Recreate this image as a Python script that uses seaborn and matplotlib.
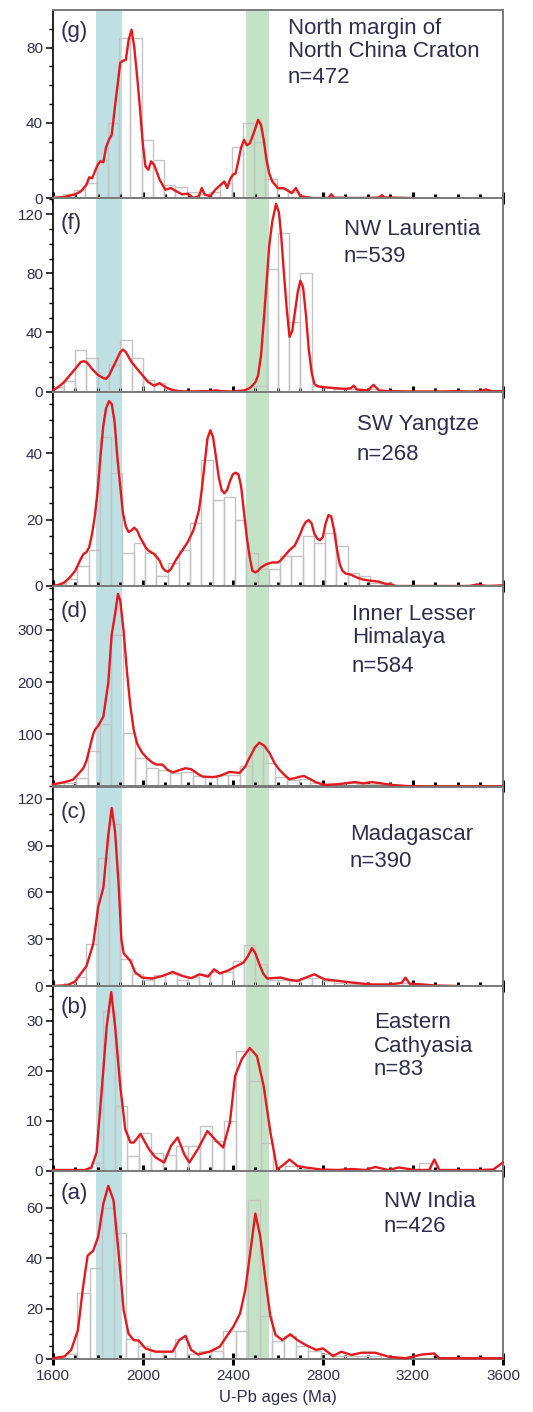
import numpy as np
import pandas as pd
import matplotlib
matplotlib.use("Agg")
import matplotlib.pyplot as plt
import seaborn as sns

# ---------------- data ----------------
PANELS = ["g", "f", "e", "d", "c", "b", "a"]

LABELS = {
    "g": "(g)", "f": "(f)", "e": None, "d": "(d)", "c": "(c)", "b": "(b)", "a": "(a)",
}
REGION_TEXT = {
    "g": ["North margin of", "North China Craton", "n=472"],
    "f": ["NW Laurentia", "n=539"],
    "e": ["SW Yangtze", "n=268"],
    "d": ["Inner Lesser", "Himalaya", "n=584"],
    "c": ["Madagascar", "n=390"],
    "b": ["Eastern", "Cathyasia", "n=83"],
    "a": ["NW India", "n=426"],
}

# probability-density curves (age in Ma, scaled value)
g_age = [1600, 1650, 1700, 1725, 1750, 1762, 1775, 1800, 1812, 1825, 1837, 1850, 1862, 1875, 1887, 1900,
         1912, 1925, 1937, 1950, 1962, 1975, 1987, 2000, 2012, 2025, 2037, 2050, 2062, 2075, 2100, 2125,
         2150, 2175, 2200, 2225, 2250, 2262, 2275, 2300, 2325, 2350, 2362, 2375, 2387, 2400, 2412, 2425,
         2437, 2450, 2462, 2475, 2487, 2500, 2512, 2525, 2537, 2550, 2562, 2575, 2600, 2625, 2650, 2662,
         2680, 2700, 2750, 2825, 2837, 2850, 3000, 3050, 3062, 3075, 3190]
g_val = [0, 0.5, 2, 3.5, 7, 11, 10.5, 17.7, 19.5, 19, 27, 31, 33.6, 47, 59, 72,
         73, 73.5, 84, 89.5, 80.5, 64.6, 48.7, 29, 16.8, 15, 19.5, 17.7, 14, 9.7, 4.4, 5.3,
         3.5, 2, 2.3, 0, 1, 5.3, 1.8, 1, 4.8, 7.4, 8.8, 5.3, 9.7, 12.4, 13, 20,
         27, 31, 28, 29, 32.7, 37, 41.6, 39, 31, 20, 13, 8.8, 5.3, 5.3, 3.5, 2.6,
         5.3, 1, 0, 0, 2, 0, 0, 0.3, 1.5, 0.3, 0]

f_age = [1600, 1625, 1650, 1675, 1700, 1725, 1737, 1750, 1775, 1800, 1825, 1837, 1850, 1875, 1900, 1912,
         1925, 1950, 1975, 2000, 2025, 2050, 2062, 2075, 2100, 2125, 2150, 2200, 2300, 2325, 2350, 2400,
         2425, 2450, 2475, 2487, 2500, 2512, 2525, 2537, 2550, 2562, 2575, 2592, 2605, 2615, 2627, 2640,
         2652, 2664, 2677, 2689, 2700, 2712, 2725, 2737, 2750, 2762, 2775, 2800, 2850, 2900, 2925, 2937,
         2950, 3000, 3025, 3050, 3100, 3200, 3300, 3400, 3450, 3500, 3525, 3550, 3600]
f_val = [0.7, 3, 6.3, 10.8, 15.3, 20, 20.5, 20, 15.3, 11.3, 9, 8.6, 10.8, 18.7, 26.6, 28.4,
         26.6, 20, 15.3, 10.8, 6.3, 4, 4.7, 5.6, 3, 1.4, 0.3, 0, 0.3, 0.8, 0.2, 0,
         0.4, 0.7, 2.3, 4, 6.3, 10.8, 24, 47, 74, 99, 115, 127, 121, 105, 80, 55,
         37, 41, 55, 68, 75, 70.6, 51.5, 29, 13, 5.2, 3.6, 3, 2.3, 1.8, 2.3, 4,
         1.4, 0.7, 4.5, 0.7, 0.2, 0, 0, 0.2, 0, 0.2, 1.4, 0.2, 0.2]

e_age = [1600, 1625, 1650, 1675, 1700, 1725, 1737, 1750, 1762, 1775, 1787, 1800, 1812, 1825, 1837, 1850,
         1862, 1875, 1887, 1900, 1912, 1925, 1937, 1950, 1962, 1975, 1987, 2000, 2012, 2025, 2037, 2050,
         2062, 2075, 2087, 2100, 2112, 2125, 2137, 2150, 2175, 2200, 2225, 2250, 2262, 2275, 2287, 2300,
         2312, 2325, 2337, 2350, 2362, 2375, 2387, 2400, 2412, 2425, 2437, 2450, 2462, 2475, 2487, 2500,
         2512, 2525, 2550, 2575, 2600, 2612, 2625, 2650, 2675, 2700, 2712, 2725, 2737, 2750, 2762, 2775,
         2787, 2800, 2812, 2825, 2837, 2850, 2862, 2875, 2887, 2900, 2925, 2950, 2975, 3000, 3050, 3075,
         3100, 3125, 3200, 3300, 3400, 3450, 3487, 3525, 3600]
e_val = [0, 0.3, 1, 2.5, 4.6, 8.2, 9.7, 10.2, 11.7, 15.8, 21, 29, 39, 48.5, 53.6, 55.8,
         55, 49.5, 39, 30, 22, 17.9, 16.3, 16.8, 17.6, 16.8, 14.8, 13.3, 11.7, 10.7, 10.2, 9.7,
         8.7, 7.7, 5.6, 4.6, 4.3, 5.1, 6.6, 8.2, 10.7, 13.3, 16.8, 23, 29, 37, 44.4, 47,
         45, 39, 33, 29, 28, 29, 31.6, 33.7, 34.2, 33.7, 30, 22, 14.8, 8.7, 4.6, 4.1,
         4.6, 5.6, 6.6, 7.1, 7.1, 7.7, 8.7, 10.7, 12.2, 15.8, 17.9, 19.4, 19.9, 18.9, 15.8, 14.3,
         13.8, 14.8, 18.9, 21.4, 21, 16.8, 11.2, 6.6, 4.6, 3.8, 3.4, 2.6, 2, 1.7, 1.3, 0.7,
         0.5, 0, 0, 0, 0, 0, 0.5, 0, 0.2]

d_age = [1600, 1650, 1690, 1712, 1736, 1750, 1780, 1790, 1802, 1825, 1847, 1862, 1877, 1890, 1900, 1915,
         1930, 1945, 1960, 1975, 1997, 2020, 2042, 2061, 2087, 2110, 2134, 2160, 2190, 2216, 2245, 2267,
         2312, 2340, 2386, 2430, 2455, 2474, 2500, 2518, 2540, 2563, 2585, 2607, 2630, 2651, 2675, 2700,
         2717, 2740, 2770, 2807, 2850, 2880, 2942, 2980, 3017, 3060, 3107, 3167, 3250, 3400, 3600]
d_val = [4, 8, 13, 23, 35, 49, 101, 110, 116, 134, 199, 291, 330, 369, 356, 297,
         219, 154, 108, 82, 65, 54, 46, 42, 42, 32, 27, 31, 35, 33, 24, 19,
         18, 20, 28, 26, 38, 55, 76, 84, 78, 64, 45, 32, 22, 14, 16, 19,
         20, 15, 8, 3, 4, 5, 8.5, 6, 8.5, 6, 3, 1, 0, 0, 0]

c_age = [1600, 1667, 1700, 1712, 1750, 1780, 1802, 1825, 1847, 1862, 1877, 1892, 1905, 1915, 1945, 1967,
         1997, 2042, 2087, 2132, 2177, 2215, 2252, 2290, 2317, 2342, 2380, 2417, 2447, 2467, 2485, 2500,
         2515, 2535, 2552, 2612, 2650, 2687, 2762, 2807, 2867, 2942, 3017, 3100, 3150, 3167, 3185, 3242,
         3300, 3400]
c_val = [0, 0.5, 3, 5.4, 12.8, 27, 50.6, 63, 97, 114, 99, 67, 30, 21, 16, 8.6,
         5.4, 4.8, 6.4, 9, 6.4, 5, 7.5, 6, 10.7, 8, 10, 12.8, 15, 19, 24.3, 21,
         15, 8, 4.8, 5.4, 4, 3.3, 7.5, 4.3, 3.3, 2, 1, 1, 2, 5.4, 1.5, 1,
         0.3, 0]

b_age = [1600, 1742, 1772, 1795, 1817, 1840, 1860, 1877, 1900, 1922, 1945, 1960, 1990, 2027, 2057, 2095,
         2125, 2155, 2185, 2207, 2245, 2287, 2327, 2357, 2387, 2410, 2440, 2475, 2507, 2537, 2567, 2597,
         2627, 2652, 2687, 2725, 2792, 2867, 2927, 2990, 3032, 3092, 3137, 3212, 3272, 3295, 3317, 3497,
         3557, 3600]
b_val = [0.2, 0.2, 0.7, 3.7, 15.7, 29, 35.8, 29, 17, 8.4, 5.7, 5.7, 7.4, 4.4, 2.7, 1.7,
         5, 6.7, 3.3, 1.7, 4.4, 8, 6, 4.7, 9.7, 19, 22.4, 24.6, 23, 17, 7.7, 0.3,
         1.3, 2.3, 1, 0.7, 0.3, 0.2, 0.4, 0.2, 0.8, 0.2, 0.7, 0.2, 0.2, 2.3, 0.2, 0.2,
         0.3, 1.7]

a_age = [1600, 1652, 1682, 1712, 1735, 1755, 1780, 1802, 1825, 1847, 1870, 1892, 1915, 1937, 1960, 1982,
         2012, 2057, 2132, 2162, 2190, 2215, 2245, 2297, 2342, 2372, 2402, 2432, 2455, 2477, 2500, 2522,
         2545, 2567, 2590, 2620, 2655, 2687, 2725, 2770, 2800, 2845, 2882, 2927, 2972, 3032, 3092, 3167,
         3242, 3295, 3317, 3600]
a_val = [0.3, 1, 3.6, 11.5, 28.7, 41, 43, 48.5, 61.7, 68.7, 63, 43, 19.4, 10, 7.5, 7.3,
         4.2, 2.9, 2.9, 7.5, 9.2, 3.6, 1.8, 2.9, 4.9, 8.9, 12.8, 18, 27.3, 41.9, 57.7, 48.5,
         31.3, 16.8, 9.5, 7.5, 9.8, 7.5, 5.5, 3.6, 4.2, 1.2, 2.9, 1.6, 2.5, 2.5, 0.9, 0.3,
         1.8, 2.2, 0.3, 0.3]

# histogram counts (bin start, bin width in Ma, counts per bin)
g_bins = (1595, 50)
g_counts = [1, 2, 4, 8, 20, 40, 85, 85, 31, 20, 7, 6, 3, 2, 3, 8, 27, 40, 30, 10, 5, 3, 1, 0, 0, 1]
f_bins = (1600, 50)
f_counts = [3, 7, 28, 22.5, 10, 18, 35, 23, 8, 6, 2, 0.5, 0, 0, 0, 0, 0, 0.5, 4, 83, 107, 47, 80, 4,
            3, 2, 2, 1, 2, 0, 0, 0, 0, 0, 0, 0, 0, 0, 1]
e_bins = (1610, 50)
e_counts = [0.5, 2, 6, 11, 45, 34, 10, 13, 10, 3, 7, 11, 19, 38, 26, 27, 20, 10, 5, 5, 9, 9, 15, 13,
            16, 12, 4, 3, 1, 1]
d_bins = (1600, 52)
d_counts = [3, 6, 16, 68, 120, 290, 103, 55, 35, 32, 25, 28, 20, 18, 22, 22, 40, 75, 45, 18, 12, 15,
            6, 3, 4, 6, 5, 5, 4, 2]
c_bins = (1600, 50)
c_counts = [0, 2, 6, 27, 82, 104, 17, 8, 4, 7, 8, 4, 6, 8, 9, 9, 16, 26, 14, 4, 4, 3, 5, 5, 3, 2,
            1, 1, 0, 0, 0, 2]
b_bins = (1606, 54)
b_counts = [0, 0, 0, 1.7, 32, 13, 3, 7.7, 3.7, 3.3, 5, 5, 9, 6, 10, 24, 18, 5.7, 0, 1, 0.5, 0, 0, 0,
            0, 0, 0, 0, 0, 0, 1.7]
a_bins = (1602, 54)
a_counts = [0.5, 2, 26, 36, 60, 50, 8, 5, 3, 3, 8, 2, 3, 3, 11, 11, 63, 17, 7, 9, 5, 3, 2, 1, 1, 1, 1]

CURVES = {"g": (g_age, g_val), "f": (f_age, f_val), "e": (e_age, e_val), "d": (d_age, d_val),
          "c": (c_age, c_val), "b": (b_age, b_val), "a": (a_age, a_val)}
HISTS = {"g": (g_bins, g_counts), "f": (f_bins, f_counts), "e": (e_bins, e_counts),
         "d": (d_bins, d_counts), "c": (c_bins, c_counts), "b": (b_bins, b_counts),
         "a": (a_bins, a_counts)}

Y_MAX = {"g": 100, "f": 131, "e": 58.7, "d": 384, "c": 127.8, "b": 37, "a": 74.6}
Y_MAJOR = {"g": [0, 40, 80], "f": [0, 40, 80, 120], "e": [0, 20, 40], "d": [100, 200, 300],
           "c": [0, 30, 60, 90, 120], "b": [0, 10, 20, 30], "a": [0, 20, 40, 60]}
Y_MINOR_STEP = {"g": 10, "f": 10, "e": 5, "d": 20, "c": 10, "b": 2.5, "a": 5}

BLUE_BAND = (1791, 1906)
GREEN_BAND = (2457, 2561)
X_TICKS = [1600, 2000, 2400, 2800, 3200, 3600]

# ---------------- style ----------------
sns.set_style("ticks")
plt.rcParams["font.family"] = ["Liberation Sans", "DejaVu Sans"]

RED = "#e3191f"
TXT = "#2e2e4e"
BAR = "#c4c4c4"
BLUE = "#bfe0e3"
GREEN = "#c4e2c6"

W, H = 533, 1412
fig = plt.figure(figsize=(W / 100, H / 100), dpi=100)
bounds = [10, 198, 391.5, 586, 786.5, 986, 1171, 1359]
heights = [bounds[i + 1] - bounds[i] for i in range(7)]
X0, X1 = 52.7, 503.0
gs = fig.add_gridspec(7, 1, left=X0 / W, right=X1 / W, top=1 - bounds[0] / H,
                      bottom=1 - bounds[-1] / H, hspace=0, height_ratios=heights)

def fx(px):
    return px / W

def fy(py):
    return 1 - py / H

TEXT_POS = {
    "g": (288, [34.3, 56.7, 83.3]),
    "f": (344, [235, 261.7]),
    "e": (357, [430, 460]),
    "d": (352, [620, 643.3, 672.3]),
    "c": (350, [840, 867.3]),
    "b": (374, [1027.7, 1051.7, 1075]),
    "a": (384, [1207.3, 1231.7]),
}
LABEL_POS = {"g": 37.5, "f": 229.5, "d": 617.5, "c": 817.5, "b": 1013.5, "a": 1198.5}

axes = []
for i, key in enumerate(PANELS):
    ax = fig.add_subplot(gs[i])
    axes.append(ax)
    ax.axvspan(*BLUE_BAND, color=BLUE, lw=0, zorder=0)
    ax.axvspan(*GREEN_BAND, color=GREEN, lw=0, zorder=0)

    (start, width), counts = HISTS[key]
    edges = [start + width * k for k in range(len(counts) + 1)]
    hist_df = pd.DataFrame({"age": [e + width / 2 for e in edges[:-1]],
                            "n": [float(c) for c in counts]})
    sns.histplot(data=hist_df, x="age", weights="n", bins=edges, ax=ax, fill=False,
                 element="bars", color=BAR, linewidth=1.0, zorder=1)

    ages, vals = CURVES[key]
    curve_df = pd.DataFrame({"age": ages, "val": vals})
    sns.lineplot(data=curve_df, x="age", y="val", ax=ax, color=RED, linewidth=1.7,
                 zorder=5, clip_on=False)

    ax.set_xlim(1600, 3600)
    ax.set_ylim(0, Y_MAX[key])
    ax.set_xlabel("")
    ax.set_ylabel("")
    ax.set_xticks(X_TICKS)
    ax.set_xticks(np.arange(1600, 3601, 100), minor=True)
    ax.set_yticks(Y_MAJOR[key])
    ax.set_yticks(np.arange(0, Y_MAX[key], Y_MINOR_STEP[key]), minor=True)

    ax.tick_params(axis="y", which="major", direction="out", length=5, width=1.1,
                   color="black", labelsize=11, labelcolor=TXT, pad=2)
    ax.tick_params(axis="y", which="minor", direction="out", length=3, width=1.0, color="black")
    ax.tick_params(axis="x", which="major", direction="inout", length=8, width=2.2,
                   color="black", labelsize=11, labelcolor=TXT, pad=3)
    ax.tick_params(axis="x", which="minor", direction="in", length=3, width=2.2, color="black")
    if key != "a":
        ax.tick_params(axis="x", which="both", labelbottom=False)

    for side in ["top", "right", "bottom"]:
        ax.spines[side].set_visible(True)
        ax.spines[side].set_color("#7a7a7a")
        ax.spines[side].set_linewidth(1.4)
    ax.spines["left"].set_color("black")
    ax.spines["left"].set_linewidth(1.2)
    ax.set_facecolor("white")

    tx, tys = TEXT_POS[key]
    for line, ty in zip(REGION_TEXT[key], tys):
        fig.text(fx(tx), fy(ty), line, ha="left", va="baseline", fontsize=16, color=TXT)
    if LABELS[key]:
        fig.text(fx(61), fy(LABEL_POS[key]), LABELS[key], ha="left", va="baseline",
                 fontsize=16, color=TXT)

axes[-1].set_xlabel("U-Pb ages (Ma)", fontsize=12, color=TXT, labelpad=5)

fig.savefig("out.png", dpi=100)
